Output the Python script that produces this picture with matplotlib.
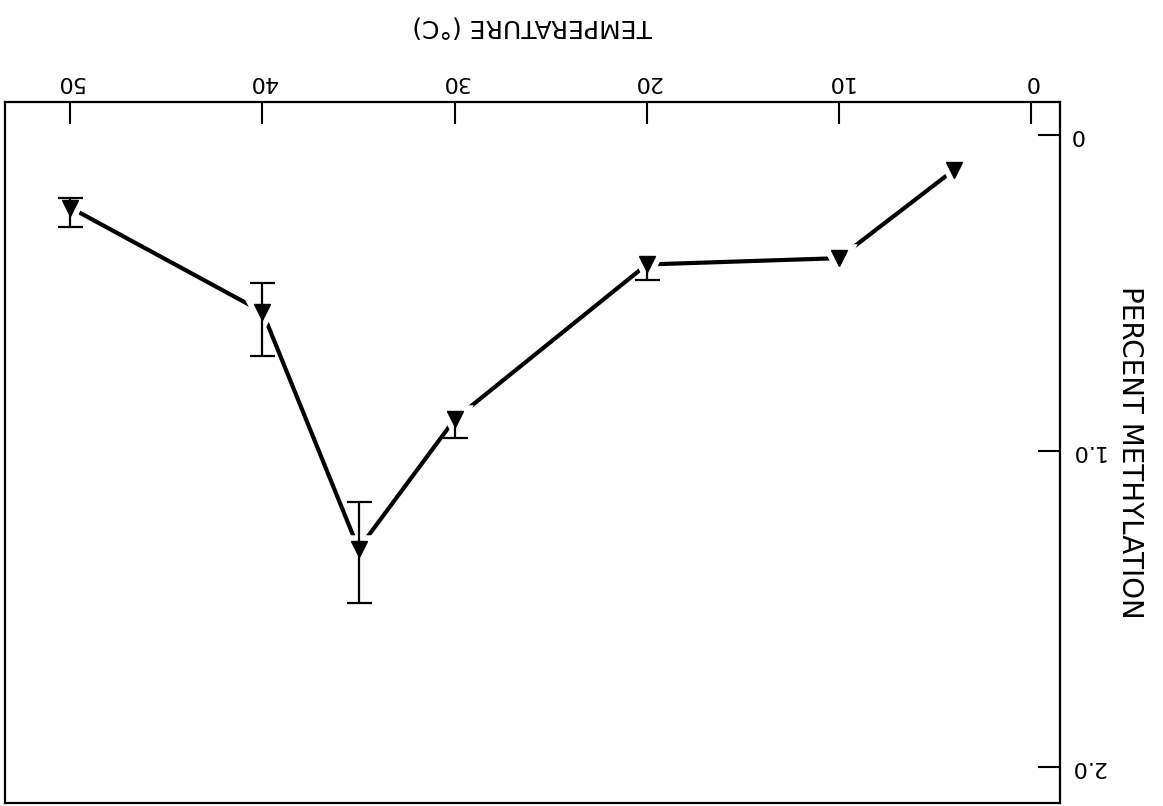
import matplotlib
matplotlib.use("Agg")
import matplotlib.pyplot as plt

# scanned page is upside down, so the whole chart is drawn rotated 180 deg
temps = [4, 10, 20, 30, 35, 40, 50]
methylation = [0.11, 0.39, 0.41, 0.90, 1.31, 0.56, 0.23]
err_minus = [0, 0, 0, 0, 0.15, 0.09, 0.03]
err_plus = [0, 0, 0.05, 0.06, 0.17, 0.14, 0.06]

xticks = [0, 10, 20, 30, 40, 50]
yticks = [0, 1.0, 2.0]
ytick_labels = ["0", "1.0", "2.0"]

plt.rcParams['font.family'] = ['DejaVu Sans']

fig = plt.figure(figsize=(11.63, 8.06), dpi=100)
ax = fig.add_axes([0.0043, 0.0037, 0.9071, 0.8697])

# line first, then white halos so the segments stop short of the markers
ax.plot(temps, methylation, color='black', lw=3, zorder=2)
ax.plot(temps, methylation, 'v', ms=12, mfc='white', mec='white', mew=9, ls='none', zorder=3)

# error bars: only the ends that show in the original get a cap
lo = [m - e for m, e in zip(methylation, err_minus)]
hi = [m + e for m, e in zip(methylation, err_plus)]
ax.vlines(temps, lo, hi, color='black', lw=1.6, zorder=4)
cap_x = [t for t, e in zip(temps, err_minus) if e > 0] + [t for t, e in zip(temps, err_plus) if e > 0]
cap_y = [y for y, e in zip(lo, err_minus) if e > 0] + [y for y, e in zip(hi, err_plus) if e > 0]
ax.plot(cap_x, cap_y, '_', ms=18, mew=1.6, color='black', ls='none', zorder=4)

ax.plot(temps, methylation, 'v', ms=12, mfc='black', mec='black', ls='none', zorder=5)

ax.set_xlim(53.4, -1.5)
ax.set_ylim(2.114, -0.104)

ax.xaxis.tick_top()
ax.xaxis.set_label_position('top')
ax.yaxis.tick_right()
ax.yaxis.set_label_position('right')

ax.set_xticks(xticks)
ax.set_xticklabels([str(t) for t in xticks], rotation=180, fontsize=16)
ax.set_yticks(yticks)
ax.set_yticklabels(ytick_labels, rotation=180, fontsize=16, va='center')

ax.tick_params(axis='both', direction='in', length=16, width=1.5, pad=7)
for s in ax.spines.values():
    s.set_linewidth(1.6)

ax.set_xlabel("TEMPERATURE (°C)", rotation=180, fontsize=18, labelpad=28)
ax.set_ylabel("PERCENT METHYLATION", rotation=270, fontsize=20, labelpad=18, va='center')

fig.savefig("out.png", dpi=100)
